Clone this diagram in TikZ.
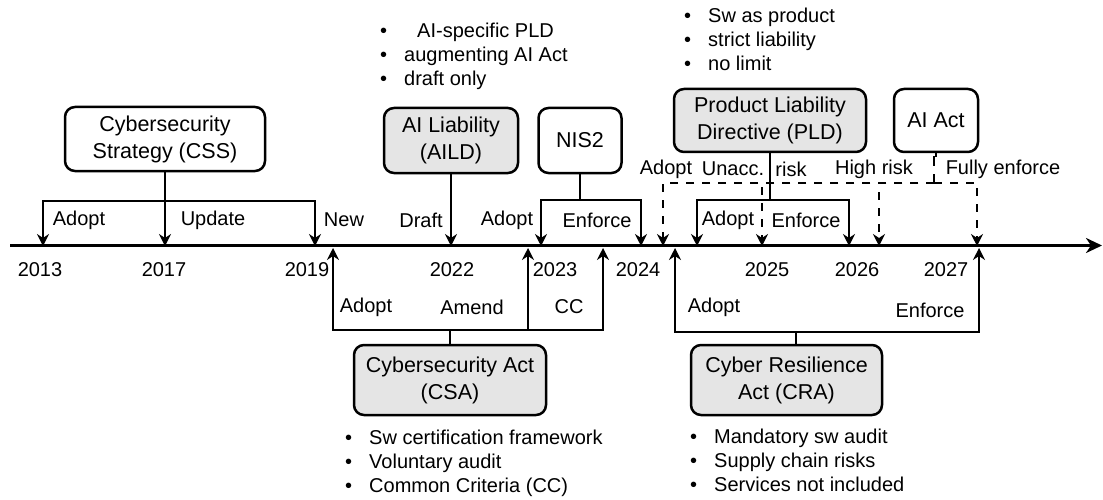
\documentclass[tikz,border=0pt]{standalone}
\usepackage{fontspec}
\setmainfont{Liberation Sans}
\usepackage{tikz}
\usetikzlibrary{arrows.meta,shapes}

\newcommand{\labelfont}{\fontsize{20}{24}\selectfont}
\newcommand{\boxfont}{\fontsize{21.5}{27}\selectfont}
\newcommand{\notelist}[3]{%
	\begin{tabular}{@{}l@{\hspace{17pt}}l@{}}
		\textbullet & #1\\
		\textbullet & #2\\
		\textbullet & #3
	\end{tabular}}

\begin{document}
\begin{tikzpicture}[x=1pt,y=-1pt,
	box node/.style={draw,line width=2.5pt,rounded corners=10pt,align=center,font=\boxfont,inner sep=0pt},
	law node/.style={box node,fill=gray!20},
	label node/.style={font=\labelfont,inner sep=0pt},
	note node/.style={font=\labelfont,inner sep=0pt,anchor=west},
	link/.style={line width=1.3pt},
	arr/.style={link,-{Stealth[length=12pt,width=12pt,inset=4pt]}},
	dash link/.style={link,dash pattern=on 8pt off 8pt},
	dash arr/.style={arr,dash pattern=on 8pt off 8pt},
	axis/.style={line width=3pt,-{Stealth[length=16pt,width=15pt,inset=5pt]}}
]
	\useasboundingbox (0,0) rectangle (1103,500);

	\def \down {246};
	\def \up {248};

	% time line
	\coordinate (tstart) at (10,245.5);
	\coordinate (tend) at (1102,245.5);
	\draw[axis] (tstart) -- (tend);

	\foreach \yr/\x in {2013/40,2017/164,2019/307,2022/452,2023/555,2024/638,2025/767,2026/857,2027/946} {
		\node[label node] (y\yr) at (\x,270) {\yr};
	}

	% acts
	\node[box node,minimum width=200pt,minimum height=64pt] (css) at (165,139) {Cybersecurity\\Strategy (CSS)};
	\node[law node,minimum width=134pt,minimum height=65pt] (aild) at (451,140.5) {AI Liability\\(AILD)};
	\node[box node,minimum width=83pt,minimum height=65pt] (nis) at (580,140.5) {NIS2};
	\node[law node,minimum width=192pt,minimum height=63pt] (pld) at (770,120.5) {Product Liability\\Directive (PLD)};
	\node[box node,minimum width=84pt,minimum height=63pt] (aiact) at (936,120.5) {AI Act};
	\node[law node,minimum width=192pt,minimum height=70pt] (csa) at (450,380) {Cybersecurity Act\\(CSA)};
	\node[law node,minimum width=191pt,minimum height=70pt] (cra) at (786.5,380) {Cyber Resilience\\Act (CRA)};

	% notes
	\node[note node] (aildnotes) at (380,57) {\notelist{\hspace*{13pt}AI-specific PLD}{augmenting AI Act}{draft only}};
	\node[note node] (pldnotes) at (684,42) {\notelist{Sw as product}{strict liability}{no limit}};
	\node[note node] (csanotes) at (345,464) {\notelist{Sw certification framework}{Voluntary audit}{Common Criteria (CC)}};
	\node[note node] (cranotes) at (690,463) {\notelist{Mandatory sw audit}{Supply chain risks}{Services not included}};

	% CSS
	\coordinate (cssb) at (165,201);
	\coordinate (css1) at (43,\down);
	\coordinate (css2) at (165,\down);
	\coordinate (css3) at (315,\down);
	\draw[link] (css) -- (cssb);
	\draw[arr] (cssb) -| (css1);
	\draw[arr] (cssb) -- (css2);
	\draw[arr] (cssb) -| (css3);
	\node[label node] (cssl1) at (79,220) {Adopt};
	\node[label node] (cssl2) at (213,220) {Update};
	\node[label node] (cssl3) at (344,220) {New};

	% AILD
	\coordinate (aild1) at (451,\down);
	\draw[arr] (aild) -- (aild1);
	\node[label node] (aildl1) at (421,220) {Draft};

	% NIS2
	\coordinate (nisb) at (580,200);
	\coordinate (nis1) at (541,\down);
	\coordinate (nis2) at (641,\down);
	\draw[link] (nis) -- (nisb);
	\draw[arr] (nisb) -| (nis1);
	\draw[arr] (nisb) -| (nis2);
	\node[label node] (nisl1) at (507,220) {Adopt};
	\node[label node] (nisl2) at (597,220) {Enforce};

	% PLD
	\coordinate (pldb) at (770,200);
	\coordinate (pld1) at (697,\down);
	\coordinate (pld2) at (849,\down);
	\draw[link] (pld) -- (pldb);
	\draw[arr] (pldb) -| (pld1);
	\draw[arr] (pldb) -| (pld2);
	\node[label node] (pldl1) at (728,220) {Adopt};
	\node[label node] (pldl2) at (806,220) {Enforce};

	% AI Act
	\coordinate (aib) at (934,183);
	\coordinate (ai1) at (663,\down);
	\coordinate (ai2) at (762,\down);
	\coordinate (ai3) at (879,\down);
	\coordinate (ai4) at (977,\down);
	\draw[link] (aiact.south) -- ++(0,3) -| (934,158);
	\draw[dash link] (934,158) -- (aib);
	\foreach \t in {1,2,3,4} {
		\draw[dash arr] (aib) -| (ai\t);
	}
	\node[label node] (ail1) at (666,169) {Adopt};
	\node[label node] (ail2) at (733,169) {Unacc.};
	\node[label node] (ail3) at (791,169) {risk};
	\node[label node] (ail4) at (874,169) {High risk};
	\node[label node] (ail5) at (1003,169) {Fully enforce};

	% CSA
	\coordinate (csab) at (450,330);
	\coordinate (csa1) at (333,\up);
	\coordinate (csa2) at (528,\up);
	\coordinate (csa3) at (603,\up);
	\draw[link] (csa) -- (csab);
	\foreach \t in {1,2,3} {
		\draw[arr] (csab) -| (csa\t);
	}
	\node[label node] (csal1) at (366,307) {Adopt};
	\node[label node] (csal2) at (472,307) {Amend};
	\node[label node] (csal3) at (569,307) {CC};

	% CRA
	\coordinate (crab) at (796,332);
	\coordinate (cra1) at (675,\up);
	\coordinate (cra2) at (979,\up);
	\draw[link] (crab) -- (crab |- cra.north);
	\draw[arr] (crab) -| (cra1);
	\draw[arr] (crab) -| (cra2);
	\node[label node] (cral1) at (714,307) {Adopt};
	\node[label node] (cral2) at (930,310) {Enforce};
\end{tikzpicture}
\end{document}
